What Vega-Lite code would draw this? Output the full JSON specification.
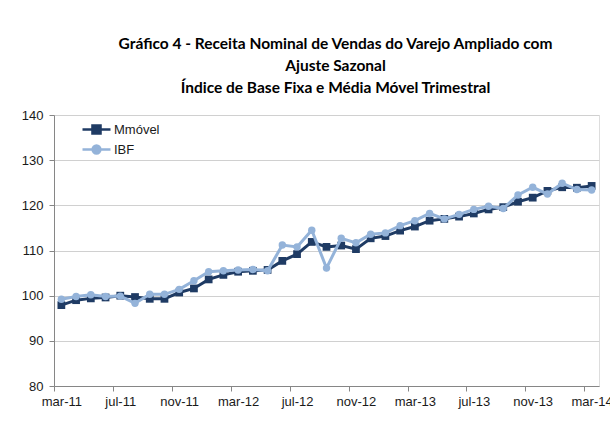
{
  "$schema": "https://vega.github.io/schema/vega-lite/v6.json",
  "autosize": {"type": "none"},
  "padding": {"left": 54, "top": 115, "right": 11, "bottom": 39},
  "width": 545,
  "height": 271,
  "background": "white",
  "title": {
    "text": ["Gráfico 4 - Receita Nominal de Vendas do Varejo Ampliado com", "Ajuste Sazonal", "Índice de Base Fixa e Média Móvel Trimestral"],
    "anchor": "middle",
    "frame": "group",
    "font": "Lato",
    "fontSize": 15.5,
    "fontWeight": "bold",
    "color": "#000000",
    "lineHeight": 22,
    "offset": 13,
    "dx": 9
  },
  "datasets": {
    "series": [
      {"m": "mar-11", "s": "Mmóvel", "v": 97.9}, {"m": "abr-11", "s": "Mmóvel", "v": 99.0}, {"m": "mai-11", "s": "Mmóvel", "v": 99.4}, {"m": "jun-11", "s": "Mmóvel", "v": 99.6}, {"m": "jul-11", "s": "Mmóvel", "v": 100.0}, {"m": "ago-11", "s": "Mmóvel", "v": 99.7}, {"m": "set-11", "s": "Mmóvel", "v": 99.3}, {"m": "out-11", "s": "Mmóvel", "v": 99.3}, {"m": "nov-11", "s": "Mmóvel", "v": 100.7}, {"m": "dez-11", "s": "Mmóvel", "v": 101.6},
      {"m": "jan-12", "s": "Mmóvel", "v": 103.6}, {"m": "fev-12", "s": "Mmóvel", "v": 104.6}, {"m": "mar-12", "s": "Mmóvel", "v": 105.3}, {"m": "abr-12", "s": "Mmóvel", "v": 105.5}, {"m": "mai-12", "s": "Mmóvel", "v": 105.7}, {"m": "jun-12", "s": "Mmóvel", "v": 107.7}, {"m": "jul-12", "s": "Mmóvel", "v": 109.2}, {"m": "ago-12", "s": "Mmóvel", "v": 111.9}, {"m": "set-12", "s": "Mmóvel", "v": 110.8}, {"m": "out-12", "s": "Mmóvel", "v": 111.1},
      {"m": "nov-12", "s": "Mmóvel", "v": 110.3}, {"m": "dez-12", "s": "Mmóvel", "v": 112.7}, {"m": "jan-13", "s": "Mmóvel", "v": 113.2}, {"m": "fev-13", "s": "Mmóvel", "v": 114.4}, {"m": "mar-13", "s": "Mmóvel", "v": 115.3}, {"m": "abr-13", "s": "Mmóvel", "v": 116.6}, {"m": "mai-13", "s": "Mmóvel", "v": 117.0}, {"m": "jun-13", "s": "Mmóvel", "v": 117.5}, {"m": "jul-13", "s": "Mmóvel", "v": 118.2}, {"m": "ago-13", "s": "Mmóvel", "v": 119.1},
      {"m": "set-13", "s": "Mmóvel", "v": 119.6}, {"m": "out-13", "s": "Mmóvel", "v": 120.8}, {"m": "nov-13", "s": "Mmóvel", "v": 121.7}, {"m": "dez-13", "s": "Mmóvel", "v": 123.2}, {"m": "jan-14", "s": "Mmóvel", "v": 124.0}, {"m": "fev-14", "s": "Mmóvel", "v": 123.9}, {"m": "mar-14", "s": "Mmóvel", "v": 124.3},
      {"m": "mar-11", "s": "IBF", "v": 99.2}, {"m": "abr-11", "s": "IBF", "v": 99.8}, {"m": "mai-11", "s": "IBF", "v": 100.2}, {"m": "jun-11", "s": "IBF", "v": 99.8}, {"m": "jul-11", "s": "IBF", "v": 99.9}, {"m": "ago-11", "s": "IBF", "v": 98.3}, {"m": "set-11", "s": "IBF", "v": 100.3}, {"m": "out-11", "s": "IBF", "v": 100.3}, {"m": "nov-11", "s": "IBF", "v": 101.4}, {"m": "dez-11", "s": "IBF", "v": 103.3},
      {"m": "jan-12", "s": "IBF", "v": 105.3}, {"m": "fev-12", "s": "IBF", "v": 105.5}, {"m": "mar-12", "s": "IBF", "v": 105.7}, {"m": "abr-12", "s": "IBF", "v": 105.8}, {"m": "mai-12", "s": "IBF", "v": 105.5}, {"m": "jun-12", "s": "IBF", "v": 111.2}, {"m": "jul-12", "s": "IBF", "v": 110.8}, {"m": "ago-12", "s": "IBF", "v": 114.5}, {"m": "set-12", "s": "IBF", "v": 106.1}, {"m": "out-12", "s": "IBF", "v": 112.7},
      {"m": "nov-12", "s": "IBF", "v": 111.7}, {"m": "dez-12", "s": "IBF", "v": 113.6}, {"m": "jan-13", "s": "IBF", "v": 113.9}, {"m": "fev-13", "s": "IBF", "v": 115.5}, {"m": "mar-13", "s": "IBF", "v": 116.6}, {"m": "abr-13", "s": "IBF", "v": 118.2}, {"m": "mai-13", "s": "IBF", "v": 117.0}, {"m": "jun-13", "s": "IBF", "v": 118.0}, {"m": "jul-13", "s": "IBF", "v": 119.1}, {"m": "ago-13", "s": "IBF", "v": 119.8},
      {"m": "set-13", "s": "IBF", "v": 119.3}, {"m": "out-13", "s": "IBF", "v": 122.3}, {"m": "nov-13", "s": "IBF", "v": 124.0}, {"m": "dez-13", "s": "IBF", "v": 122.5}, {"m": "jan-14", "s": "IBF", "v": 124.9}, {"m": "fev-14", "s": "IBF", "v": 123.5}, {"m": "mar-14", "s": "IBF", "v": 123.4}
    ]
  },
  "data": {"name": "series"},
  "encoding": {
    "x": {
      "field": "m",
      "type": "ordinal",
      "sort": null,
      "scale": {"type": "point", "padding": 0.5},
      "axis": {
        "title": null,
        "values": ["mar-11", "jul-11", "nov-11", "mar-12", "jul-12", "nov-12", "mar-13", "jul-13", "nov-13", "mar-14"],
        "labelAngle": 0,
        "tickOffset": -7.36,
        "labelOffset": 7.36,
        "tickSize": 5,
        "labelPadding": 4,
        "grid": false,
        "domainColor": "#868686",
        "tickColor": "#868686",
        "labelFont": "Liberation Sans",
        "labelFontSize": 13,
        "labelColor": "#1a1a1a",
        "labelOverlap": false,
        "labelBound": false
      }
    },
    "y": {
      "field": "v",
      "type": "quantitative",
      "scale": {"domain": [80, 140], "nice": false, "zero": false},
      "axis": {
        "title": null,
        "values": [80, 90, 100, 110, 120, 130, 140],
        "tickSize": 5,
        "labelPadding": 6,
        "grid": true,
        "gridColor": "#d0d0d0",
        "gridWidth": 1,
        "domainColor": "#868686",
        "tickColor": "#868686",
        "labelFont": "Liberation Sans",
        "labelFontSize": 13,
        "labelColor": "#1a1a1a"
      }
    },
    "color": {
      "field": "s",
      "type": "nominal",
      "sort": ["Mmóvel", "IBF"],
      "scale": {"domain": ["Mmóvel", "IBF"], "range": ["#1f3b64", "#94b3d9"]},
      "legend": {
        "title": null,
        "orient": "none",
        "legendX": 34,
        "legendY": 6,
        "symbolSize": 200,
        "symbolStrokeWidth": 2.5,
        "labelFont": "Liberation Sans",
        "labelFontSize": 13,
        "labelColor": "#1a1a1a",
        "labelOffset": 9,
        "rowPadding": 1,
        "encode": {
          "symbols": {
            "update": {
              "shape": {"signal": "datum.value === 'Mmóvel' ? 'M-1.98,0H1.98M-0.57,-0.57H0.57V0.57H-0.57Z' : 'M-1.98,0H1.98M0.55,0A0.55,0.55 0 1,1 -0.55,0A0.55,0.55 0 1,1 0.55,0Z'"},
              "fillOpacity": {"value": 1}
            }
          }
        }
      }
    }
  },
  "layer": [
    {
      "transform": [{"filter": "datum.s === 'Mmóvel'"}],
      "layer": [
        {"mark": {"type": "line", "strokeWidth": 3}},
        {"mark": {"type": "point", "shape": "square", "filled": true, "size": 60, "opacity": 1}}
      ]
    },
    {
      "transform": [{"filter": "datum.s === 'IBF'"}],
      "layer": [
        {"mark": {"type": "line", "strokeWidth": 3}},
        {"mark": {"type": "point", "shape": "circle", "filled": true, "size": 55, "opacity": 1}}
      ]
    }
  ]
}
